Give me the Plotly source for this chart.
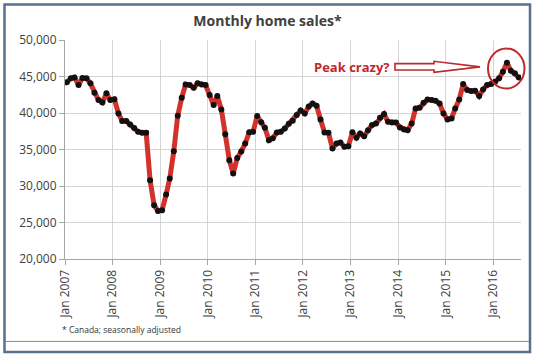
import plotly.graph_objects as go

# ---- data (Canada, seasonally adjusted monthly home sales) ----
start_year = 2007
sales = [
    44200, 44750, 44880, 43830, 44790, 44750, 44060, 42770, 41770, 41450, 42690, 41770,  # 2007
    41900, 39940, 38890, 38890, 38430, 37930, 37420, 37280, 37280, 30790, 27360, 26580,  # 2008
    26670, 28830, 31020, 34770, 39610, 42090, 43920, 43830, 43460, 44060, 43920, 43830,  # 2009
    42450, 41080, 42320, 40490, 37100, 33540, 31710, 33850, 34730, 35820, 37350, 37420,  # 2010
    39590, 38750, 37970, 36280, 36550, 37330, 37420, 37880, 38520, 38930, 39710, 40350,  # 2011
    39940, 40900, 41310, 40990, 39120, 37330, 37280, 35140, 35820, 35960, 35360, 35460,  # 2012
    37380, 36620, 37200, 36830, 37650, 38340, 38570, 39340, 39850, 38790, 38700, 38700,  # 2013
    38020, 37750, 37650, 38570, 40630, 40720, 41400, 41860, 41770, 41670, 41310, 39940,  # 2014
    39120, 39260, 40630, 41860, 43960, 43140, 43000, 43040, 42320, 43230, 43830, 43960,  # 2015
    44280, 44750, 45650, 46890, 45800, 45430, 44880,                                      # 2016
]
months = [f"{start_year + i // 12}-{i % 12 + 1:02d}-15" for i in range(len(sales))]

tick_dates = ["2007-01-01", "2008-01-01", "2009-01-01", "2010-01-01", "2011-01-01",
              "2012-01-01", "2013-01-01", "2014-01-01", "2015-01-01", "2016-01-01"]
tick_labels = ["Jan 2007", "Jan 2008", "Jan 2009", "Jan 2010", "Jan 2011",
               "Jan 2012", "Jan 2013", "Jan 2014", "Jan 2015", "Jan 2016"]
y_ticks = [20000, 25000, 30000, 35000, 40000, 45000, 50000]

title_text = "Monthly home sales*"
note_text = "* Canada; seasonally adjusted"
callout_text = "Peak crazy?"

# ---- layout geometry (pixels) ----
W, H = 535, 355
L, R, T, B = 65, 521, 40, 258.7

def px(x):
    return (x - L) / (R - L)

def py(y):
    return (B - y) / (B - T)

RED = "#d3322c"
DARKRED = "#c0282a"
TXT = "#404040"
FONT = "Open Sans"

fig = go.Figure()
fig.add_trace(go.Scatter(
    x=months, y=sales, mode="lines+markers",
    line=dict(color=RED, width=5),
    marker=dict(color="#111111", size=6),
    hoverinfo="skip", showlegend=False,
))

# hollow block arrow path
pts = [(395, 63.6), (434, 63.6), (434, 61.3), (480, 66.8), (434, 72.3), (434, 70.0), (395, 70.0)]
path = "M " + " L ".join(f"{px(a):.5f},{py(b):.5f}" for a, b in pts) + " Z"

shapes = [
    # outer frame
    dict(type="rect", xref="paper", yref="paper",
         x0=px(4.5), x1=px(530), y0=py(351.5), y1=py(4.5),
         line=dict(color="#56708e", width=2.5), fillcolor="rgba(0,0,0,0)", layer="below"),
    # inner bottom line
    dict(type="line", xref="paper", yref="paper",
         x0=px(6), x1=px(529), y0=py(341), y1=py(341),
         line=dict(color="#8a8a8a", width=1)),
    # arrow
    dict(type="path", xref="paper", yref="paper", path=path,
         line=dict(color=DARKRED, width=1.6), fillcolor="#ffffff"),
    # circle around the peak
    dict(type="circle", xref="paper", yref="paper",
         x0=px(488), x1=px(524.5), y0=py(88.5), y1=py(48.5),
         line=dict(color=DARKRED, width=2)),
]

annotations = [
    dict(text=f"<b>{callout_text}</b>", xref="paper", yref="paper",
         x=px(392), y=py(67), xanchor="right", yanchor="middle",
         showarrow=False, font=dict(family=FONT, size=13, color=DARKRED)),
    dict(text=note_text, xref="paper", yref="paper",
         x=px(60), y=py(329), xanchor="left", yanchor="middle",
         showarrow=False, font=dict(family=FONT, size=8.5, color="#333333")),
]

fig.update_layout(
    width=W, height=H,
    margin=dict(l=L, r=W - R, t=T, b=H - B, pad=0),
    paper_bgcolor="#ffffff", plot_bgcolor="#ffffff",
    title=dict(text=f"<b>{title_text}</b>", xref="container", yref="container",
               x=0.5, y=1 - 21 / H, xanchor="center", yanchor="middle",
               font=dict(family=FONT, size=14, color=TXT)),
    xaxis=dict(type="date", range=["2007-01-01", "2016-08-01"],
               tickvals=tick_dates, ticktext=tick_labels, tickangle=-90,
               showgrid=True, gridcolor="#d4d4d4", gridwidth=1,
               showline=True, linecolor="#a6a6a6", linewidth=1, mirror=False,
               ticks="outside", ticklen=5, tickcolor="#a6a6a6",
               tickfont=dict(family=FONT, size=12, color=TXT), zeroline=False),
    yaxis=dict(range=[20000, 50000], tickvals=y_ticks,
               tickformat=",d",
               showgrid=True, gridcolor="#d4d4d4", gridwidth=1,
               showline=True, linecolor="#a6a6a6", linewidth=1,
               ticks="outside", ticklen=5, tickcolor="#a6a6a6",
               tickfont=dict(family=FONT, size=12, color=TXT), zeroline=False),
    shapes=shapes, annotations=annotations,
)

fig.write_html(
    "out.html",
    config={"displayModeBar": False, "staticPlot": True},
    post_script="document.body.style.margin='0';document.body.style.overflow='hidden';",
)
